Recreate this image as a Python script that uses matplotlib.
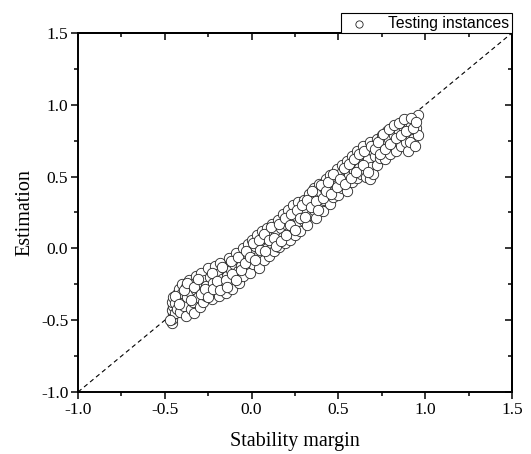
import matplotlib
matplotlib.use("Agg")
import matplotlib.pyplot as plt

# testing instances
stability_margin = [
    -0.46, -0.46, -0.45, -0.46, -0.45, -0.46, -0.45, -0.44, -0.44, -0.43, -0.43,
    -0.42, -0.41, -0.41, -0.40, -0.40, -0.39, -0.38, -0.38, -0.37, -0.36, -0.36,
    -0.35, -0.34, -0.34, -0.33, -0.32, -0.32, -0.31, -0.30, -0.30,
    -0.29, -0.28, -0.28, -0.27, -0.26, -0.26, -0.25, -0.24, -0.24, -0.23, -0.22,
    -0.21, -0.21, -0.20, -0.19, -0.19, -0.18, -0.17, -0.16, -0.16, -0.15, -0.14,
    -0.13, -0.13, -0.12, -0.11, -0.10, -0.10,
    -0.09, -0.08, -0.07, -0.07, -0.06, -0.05, -0.05, -0.04, -0.03, -0.02, -0.02,
    -0.01, 0.00, 0.00, 0.01, 0.02, 0.03, 0.03, 0.04, 0.05, 0.06, 0.06, 0.07,
    0.08, 0.09, 0.09, 0.10,
    0.11, 0.12, 0.12, 0.13, 0.14, 0.15, 0.15, 0.16, 0.17, 0.18, 0.18, 0.19,
    0.20, 0.21, 0.21, 0.22, 0.23, 0.24, 0.24, 0.25, 0.26, 0.27, 0.27, 0.28,
    0.29, 0.30, 0.30,
    0.31, 0.32, 0.33, 0.33, 0.34, 0.35, 0.36, 0.36, 0.37, 0.38, 0.39, 0.39,
    0.40, 0.41, 0.42, 0.42, 0.43, 0.44, 0.45, 0.45, 0.46, 0.47, 0.48, 0.48,
    0.49, 0.50, 0.50,
    0.51, 0.52, 0.52, 0.53, 0.54, 0.55, 0.55, 0.56, 0.57, 0.58, 0.58, 0.59,
    0.60, 0.61, 0.61, 0.62, 0.63, 0.63, 0.64, 0.65, 0.66, 0.66, 0.67, 0.68,
    0.68, 0.69, 0.70, 0.70,
    0.71, 0.72, 0.72, 0.73, 0.74, 0.75, 0.75, 0.76, 0.77, 0.78, 0.78, 0.79,
    0.80, 0.81, 0.81, 0.82, 0.83, 0.84, 0.84, 0.85, 0.86, 0.87, 0.87, 0.88,
    0.89, 0.90, 0.90, 0.91, 0.92, 0.93, 0.94, 0.95, 0.96, 0.96,
    # second pass over the band
    -0.47, -0.44, -0.42, -0.39, -0.37, -0.35, -0.33, -0.31, -0.29, -0.27,
    -0.25, -0.23, -0.22, -0.20, -0.18, -0.17, -0.15, -0.14, -0.12, -0.11,
    -0.09, -0.08, -0.06, -0.04, -0.03, -0.01, 0.01, 0.02, 0.04, 0.05,
    0.07, 0.08, 0.10, 0.11, 0.13, 0.14, 0.16, 0.17, 0.19, 0.20,
    0.22, 0.23, 0.25, 0.26, 0.28, 0.29, 0.31, 0.32, 0.34, 0.35,
    0.37, 0.38, 0.40, 0.41, 0.43, 0.44, 0.46, 0.47, 0.49, 0.51,
    0.53, 0.54, 0.56, 0.57, 0.59, 0.60, 0.62, 0.64, 0.65, 0.67,
    0.69, 0.71, 0.73, 0.74, 0.76, 0.77, 0.79, 0.80, 0.82, 0.83,
    0.85, 0.86, 0.88, 0.89, 0.91, 0.92, 0.93, 0.94, 0.95,
]
estimation = [
    -0.52, -0.49, -0.46, -0.43, -0.40, -0.37, -0.34, -0.45, -0.38, -0.42, -0.32,
    -0.28, -0.35, -0.44, -0.25, -0.31, -0.40, -0.27, -0.47, -0.34, -0.22, -0.30,
    -0.42, -0.25, -0.37, -0.45, -0.19, -0.29, -0.34, -0.41, -0.24,
    -0.17, -0.30, -0.37, -0.22, -0.26, -0.33, -0.14, -0.20, -0.29, -0.35, -0.24,
    -0.12, -0.30, -0.18, -0.25, -0.33, -0.10, -0.21, -0.27, -0.14, -0.31, -0.19,
    -0.07, -0.24, -0.15, -0.28, -0.11, -0.20,
    -0.03, -0.16, -0.24, -0.08, -0.12, 0.00, -0.19, -0.06, -0.13, 0.03, -0.09,
    -0.17, -0.02, 0.06, -0.11, 0.02, -0.06, 0.09, -0.14, 0.04, -0.03, 0.12, -0.08,
    0.07, 0.00, 0.14, -0.05,
    0.09, 0.03, 0.17, -0.02, 0.11, 0.06, 0.20, 0.01, 0.14, 0.08, 0.24, 0.04,
    0.17, 0.11, 0.27, 0.06, 0.20, 0.14, 0.30, 0.09, 0.22, 0.17, 0.32, 0.12,
    0.25, 0.19, 0.34,
    0.27, 0.16, 0.31, 0.38, 0.23, 0.33, 0.27, 0.42, 0.21, 0.36, 0.30, 0.45,
    0.39, 0.26, 0.42, 0.34, 0.48, 0.38, 0.31, 0.51, 0.44, 0.36, 0.49, 0.41,
    0.55, 0.45, 0.37,
    0.52, 0.42, 0.58, 0.47, 0.55, 0.40, 0.61, 0.51, 0.57, 0.46, 0.64, 0.54,
    0.60, 0.49, 0.68, 0.56, 0.63, 0.52, 0.71, 0.59, 0.50, 0.66, 0.62, 0.48,
    0.74, 0.57, 0.68, 0.52,
    0.64, 0.76, 0.58, 0.70, 0.63, 0.79, 0.67, 0.73, 0.62, 0.82, 0.70, 0.76,
    0.66, 0.84, 0.73, 0.79, 0.68, 0.85, 0.75, 0.81, 0.71, 0.87, 0.78, 0.83,
    0.74, 0.88, 0.68, 0.80, 0.86, 0.76, 0.90, 0.84, 0.93, 0.79,
    # second pass over the band
    -0.50, -0.33, -0.39, -0.29, -0.24, -0.36, -0.27, -0.21, -0.32, -0.28,
    -0.34, -0.17, -0.28, -0.23, -0.29, -0.13, -0.22, -0.27, -0.09, -0.18,
    -0.22, -0.06, -0.15, -0.10, -0.02, -0.06, 0.04, -0.08, 0.06, -0.01,
    0.10, -0.02, 0.06, 0.15, 0.07, 0.02, 0.17, 0.05, 0.21, 0.09,
    0.16, 0.24, 0.13, 0.27, 0.21, 0.30, 0.22, 0.34, 0.29, 0.40,
    0.33, 0.27, 0.44, 0.35, 0.40, 0.46, 0.38, 0.52, 0.43, 0.48,
    0.56, 0.45, 0.59, 0.49, 0.62, 0.53, 0.66, 0.58, 0.68, 0.53,
    0.71, 0.69, 0.74, 0.66, 0.80, 0.69, 0.83, 0.73, 0.86, 0.77,
    0.87, 0.79, 0.90, 0.82, 0.74, 0.91, 0.84, 0.71, 0.88,
]
ticks = [-1.0, -0.5, 0.0, 0.5, 1.0, 1.5]
minor = [-0.75, -0.25, 0.25, 0.75, 1.25]

serif = ["Liberation Serif", "DejaVu Serif"]

fig = plt.figure(figsize=(5.31, 4.54), dpi=100)
ax = fig.add_axes([0.147, 0.1366, 0.817, 0.7907])

ax.plot([-1.0, 1.5], [-1.0, 1.5], ls=(0, (4, 3)), color="black", lw=0.8, zorder=1)
ax.scatter(stability_margin, estimation, s=56, facecolors="white",
           edgecolors="#222222", linewidths=0.6, zorder=2, label="Testing instances")

ax.set_xlim(-1.0, 1.5)
ax.set_ylim(-1.0, 1.5)
ax.set_xticks(ticks)
ax.set_yticks(ticks)
ax.set_xticks(minor, minor=True)
ax.set_yticks(minor, minor=True)
ax.set_xticklabels([f"{t:.1f}" for t in ticks], family=serif, fontsize=12.5)
ax.set_yticklabels([f"{t:.1f}" for t in ticks], family=serif, fontsize=12.5)
ax.tick_params(which="major", direction="out", length=5, width=1.1, pad=2)
ax.tick_params(which="minor", direction="out", length=3, width=1.1)

# opposite sides: ticks pointing in, no labels
for sec in (ax.secondary_xaxis("top"), ax.secondary_yaxis("right")):
    sec.set_ticks(ticks)
    sec.set_ticks(minor, minor=True)
    sec.tick_params(which="major", direction="in", length=5, width=1.1,
                    labeltop=False, labelright=False)
    sec.tick_params(which="minor", direction="in", length=3, width=1.1)
    for s in sec.spines.values():
        s.set_linewidth(1.4)

for s in ax.spines.values():
    s.set_linewidth(1.4)

ax.set_xlabel("Stability margin", family=serif, fontsize=14.5, labelpad=10)
ax.set_ylabel("Estimation", family=serif, fontsize=14.5, labelpad=5)

leg = ax.legend(loc="lower right", bbox_to_anchor=(1.0, 1.0), borderaxespad=0,
                fancybox=False, framealpha=1, edgecolor="black",
                prop={"family": ["Liberation Sans", "DejaVu Sans"], "size": 11.3},
                handletextpad=0.9, borderpad=0.15, markerscale=0.7)
leg.get_frame().set_linewidth(0.8)

fig.savefig("out.png", dpi=100)
